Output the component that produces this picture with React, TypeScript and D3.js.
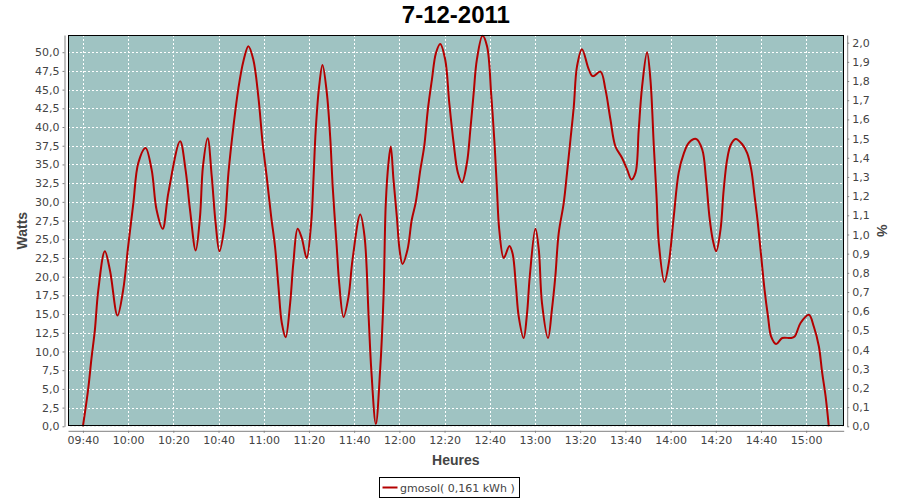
import { useRef, useEffect } from "react"
import * as d3 from "d3"

// gmosol power readings, 7-12-2011
const times = [
  "09:40:00", "09:42:18", "09:43:48", "09:45:18", "09:46:48", "09:49:42", "09:52:00", "09:55:18", "09:57:48", "10:00:00",
  "10:02:18", "10:04:30", "10:07:42", "10:10:24", "10:12:36", "10:15:18", "10:17:48", "10:23:00", "10:25:24", "10:27:24",
  "10:29:54", "10:31:48", "10:33:06", "10:35:12", "10:37:00", "10:38:42", "10:40:24", "10:42:36", "10:44:24", "10:46:36",
  "10:48:48", "10:51:00", "10:53:12", "10:55:24", "10:57:36", "10:59:30", "11:01:18", "11:03:18", "11:05:00", "11:06:30",
  "11:08:00", "11:09:42", "11:11:42", "11:13:06", "11:15:00", "11:16:48", "11:19:00", "11:21:00", "11:22:00", "11:23:00",
  "11:24:30", "11:26:00", "11:27:54", "11:29:24", "11:30:30", "11:32:18", "11:33:24", "11:35:18", "11:37:30", "11:39:18",
  "11:42:42", "11:44:36", "11:46:24", "11:47:36", "11:49:36", "11:51:30", "11:53:00", "11:54:00", "11:55:12", "11:56:12",
  "11:57:24", "11:58:54", "12:00:06", "12:01:24", "12:03:36", "12:05:30", "12:07:18", "12:09:18", "12:11:00", "12:12:36",
  "12:14:24", "12:16:12", "12:18:06", "12:20:18", "12:22:06", "12:24:00", "12:25:54", "12:27:42", "12:29:54", "12:31:24",
  "12:32:54", "12:34:18", "12:36:48", "12:38:48", "12:40:42", "12:42:12", "12:43:12", "12:44:12", "12:46:12", "12:48:42",
  "12:50:06", "12:51:36", "12:52:48", "12:55:00", "12:56:30", "12:57:42", "13:00:12", "13:01:42", "13:03:06", "13:05:48",
  "13:07:30", "13:09:00", "13:10:30", "13:12:42", "13:14:12", "13:15:42", "13:17:12", "13:18:36", "13:20:48", "13:23:48",
  "13:25:36", "13:29:00", "13:31:12", "13:33:24", "13:35:36", "13:38:30", "13:40:48", "13:42:42", "13:44:30", "13:45:54",
  "13:47:24", "13:49:36", "13:51:06", "13:52:36", "13:53:48", "13:54:48", "13:57:18", "13:59:12", "14:01:24", "14:03:36",
  "14:05:54", "14:08:06", "14:11:18", "14:14:00", "14:15:42", "14:17:12", "14:18:42", "14:20:12", "14:22:06", "14:23:30",
  "14:25:00", "14:26:36", "14:28:48", "14:31:42", "14:33:54", "14:35:42", "14:37:12", "14:38:36", "14:40:06", "14:41:36",
  "14:43:06", "14:44:30", "14:46:42", "14:49:24", "14:53:06", "14:54:54", "14:57:30", "15:01:12", "15:03:24", "15:05:36",
  "15:07:06", "15:08:36", "15:10:00",
]
const watts = [
  0, 4.9, 9.1, 12.9, 18.2, 23.4, 20.8, 14.8, 18.2, 24.0,
  29.8, 35.2, 37.2, 34.3, 28.9, 26.4, 31.2, 38.1, 34.3, 28.9,
  23.5, 28.0, 34.7, 38.5, 33.4, 27.2, 23.4, 26.7, 33.9, 40.1,
  45.2, 48.8, 50.8, 49.0, 44.1, 37.9, 33.4, 28.0, 24.0, 18.7,
  13.8, 11.9, 16.5, 21.8, 26.4, 25.2, 22.5, 27.2, 33.0, 39.6,
  45.4, 48.3, 44.6, 38.7, 32.1, 24.0, 19.1, 14.6, 17.3, 22.3,
  28.3, 25.4, 14.7, 7.5, 0.3, 7.5, 17.3, 29.8, 35.2, 37.4,
  33.0, 28.0, 23.6, 21.7, 23.6, 27.6, 30.0, 34.3, 37.4, 42.3,
  46.3, 49.9, 51.1, 49.0, 43.2, 37.9, 33.9, 32.6, 35.2, 39.6,
  44.6, 49.0, 52.2, 50.8, 44.1, 37.4, 31.6, 26.3, 22.5, 24.1,
  23.1, 18.7, 14.7, 11.8, 15.1, 20.0, 26.4, 23.6, 16.5, 11.8,
  15.6, 20.0, 25.8, 29.8, 33.9, 38.3, 42.8, 48.1, 50.4, 47.7,
  46.8, 47.4, 45.0, 41.0, 37.4, 35.9, 34.3, 33.0, 33.9, 39.6,
  45.4, 50.0, 46.3, 37.4, 30.7, 24.5, 19.3, 21.8, 28.0, 33.9,
  36.5, 37.9, 38.4, 37.0, 33.0, 28.0, 24.9, 23.4, 26.3, 31.6,
  35.6, 37.6, 38.4, 37.7, 36.5, 34.3, 30.7, 27.2, 22.7, 18.2,
  14.7, 12.0, 11.0, 11.8, 11.8, 12.0, 13.8, 14.9, 13.3, 10.7,
  7.1, 4.0, 0,
]

const timeTicks = ["09:40", "10:00", "10:20", "10:40", "11:00", "11:20", "11:40", "12:00", "12:20",
  "12:40", "13:00", "13:20", "13:40", "14:00", "14:20", "14:40", "15:00"]
const wattTicks = [0, 2.5, 5, 7.5, 10, 12.5, 15, 17.5, 20, 22.5, 25, 27.5, 30, 32.5, 35, 37.5, 40,
  42.5, 45, 47.5, 50]
const pctTicks = [0, 0.1, 0.2, 0.3, 0.4, 0.5, 0.6, 0.7, 0.8, 0.9, 1.0, 1.1, 1.2, 1.3, 1.4, 1.5, 1.6,
  1.7, 1.8, 1.9, 2.0]

const title = "7-12-2011"
const seriesName = "gmosol( 0,161 kWh )"

const W = 900
const H = 500
const plot = { left: 68, right: 843.7, top: 35, bottom: 426.3 }
const tickFont = "'DejaVu Sans', sans-serif"
const labelFont = "'Liberation Sans', Arial, sans-serif"
const tickColor = "#444444"
const lineColor = "#b40000"

const comma = (f: string) => (v: number) => d3.format(f)(v).replace(".", ",")

export default function App() {
  const svgRef = useRef<SVGSVGElement>(null)

  useEffect(() => {
    if (!svgRef.current) return
    const svg = d3.select(svgRef.current)
    svg.selectAll("*").remove()

    const parseTick = d3.timeParse("%H:%M")
    const parse = d3.timeParse("%H:%M:%S")
    const data = times.map((t, i) => ({ t: parse(t) as Date, v: watts[i] }))

    // 2% margin each side, like the auto range
    const [t0, t1] = d3.extent(data, (d) => d.t) as [Date, Date]
    const pad = (+t1 - +t0) * 0.02
    const x = d3
      .scaleTime()
      .domain([new Date(+t0 - pad), new Date(+t1 + pad)])
      .range([plot.left, plot.right])
    const y = d3.scaleLinear().domain([0, 52.3]).range([plot.bottom, plot.top])
    const yRight = d3.scaleLinear().domain([0, 2.04]).range([plot.bottom, plot.top])

    // plot background
    svg
      .append("rect")
      .attr("x", plot.left)
      .attr("y", plot.top)
      .attr("width", plot.right - plot.left)
      .attr("height", plot.bottom - plot.top)
      .attr("fill", "#9fc3c2")

    // grid
    const grid = svg.append("g").attr("stroke", "#ffffff").attr("stroke-dasharray", "2,2").attr("shape-rendering", "crispEdges")
    grid
      .selectAll("line.v")
      .data(timeTicks)
      .join("line")
      .attr("x1", (d) => Math.round(x(parseTick(d) as Date)) + 0.5)
      .attr("x2", (d) => Math.round(x(parseTick(d) as Date)) + 0.5)
      .attr("y1", plot.top)
      .attr("y2", plot.bottom)
    grid
      .selectAll("line.h")
      .data(wattTicks)
      .join("line")
      .attr("x1", plot.left)
      .attr("x2", plot.right)
      .attr("y1", (d) => Math.round(y(d)) + 0.5)
      .attr("y2", (d) => Math.round(y(d)) + 0.5)

    // series
    const line = d3
      .line<{ t: Date; v: number }>()
      .x((d) => x(d.t))
      .y((d) => y(d.v))
      .curve(d3.curveCatmullRom.alpha(0.5))
    svg
      .append("path")
      .datum(data)
      .attr("fill", "none")
      .attr("stroke", lineColor)
      .attr("stroke-width", 2)
      .attr("stroke-linejoin", "round")
      .attr("d", line)

    // plot outline
    svg
      .append("rect")
      .attr("x", plot.left + 0.5)
      .attr("y", plot.top + 0.5)
      .attr("width", plot.right - plot.left - 1)
      .attr("height", plot.bottom - plot.top - 1)
      .attr("fill", "none")
      .attr("stroke", "#000000")
      .attr("shape-rendering", "crispEdges")

    // axes, offset 4px from the plot
    const styleAxis = (g: d3.Selection<SVGGElement, unknown, null, undefined>) => {
      g.select(".domain").attr("stroke", "#808080")
      g.selectAll(".tick line").attr("stroke", "#808080")
      g.selectAll(".tick text").attr("fill", tickColor).attr("font-family", tickFont).attr("font-size", 11)
    }

    const xAxis = svg
      .append("g")
      .attr("transform", `translate(0,${plot.bottom + 4.5})`)
      .call(
        d3
          .axisBottom(x)
          .tickValues(timeTicks.map((d) => parseTick(d) as Date))
          .tickFormat((d) => d3.timeFormat("%H:%M")(d as Date))
          .tickSizeInner(2)
          .tickSizeOuter(0)
          .tickPadding(3)
      )
    styleAxis(xAxis)

    const yAxis = svg
      .append("g")
      .attr("transform", `translate(${plot.left - 3.5},0)`)
      .call(d3.axisLeft(y).tickValues(wattTicks).tickFormat((d) => comma(".1f")(+d)).tickSizeInner(2).tickSizeOuter(0).tickPadding(3))
    styleAxis(yAxis)

    const yAxisR = svg
      .append("g")
      .attr("transform", `translate(${plot.right + 3.5},0)`)
      .call(d3.axisRight(yRight).tickValues(pctTicks).tickFormat((d) => comma(".1f")(+d)).tickSizeInner(2).tickSizeOuter(0).tickPadding(3))
    styleAxis(yAxisR)

    // title and axis labels
    svg
      .append("text")
      .attr("x", (plot.left + plot.right) / 2)
      .attr("y", 23)
      .attr("text-anchor", "middle")
      .attr("font-family", labelFont)
      .attr("font-weight", "bold")
      .attr("font-size", 24)
      .attr("fill", "#000000")
      .text(title)

    svg
      .append("text")
      .attr("x", (plot.left + plot.right) / 2)
      .attr("y", 465)
      .attr("text-anchor", "middle")
      .attr("font-family", labelFont)
      .attr("font-weight", "bold")
      .attr("font-size", 14)
      .attr("fill", "#444444")
      .text("Heures")

    svg
      .append("text")
      .attr("transform", `translate(27,${(plot.top + plot.bottom) / 2}) rotate(-90)`)
      .attr("text-anchor", "middle")
      .attr("font-family", labelFont)
      .attr("font-weight", "bold")
      .attr("font-size", 14)
      .attr("fill", "#444444")
      .text("Watts")

    svg
      .append("text")
      .attr("transform", `translate(877,${(plot.top + plot.bottom) / 2}) rotate(90)`)
      .attr("text-anchor", "middle")
      .attr("font-family", labelFont)
      .attr("font-weight", "bold")
      .attr("font-size", 14)
      .attr("fill", "#444444")
      .text("%")

    // legend
    const legend = svg.append("g").attr("transform", "translate(379.5,477.5)")
    legend.append("rect").attr("width", 140).attr("height", 20).attr("fill", "#ffffff").attr("stroke", "#000000")
    legend.append("line").attr("x1", 3).attr("x2", 18).attr("y1", 10).attr("y2", 10).attr("stroke", lineColor).attr("stroke-width", 2)
    legend
      .append("text")
      .attr("x", 20.5)
      .attr("y", 14.5)
      .attr("font-family", tickFont)
      .attr("font-size", 11)
      .attr("fill", tickColor)
      .text(seriesName)
  }, [])

  return (
    <svg
      ref={svgRef}
      width={W}
      height={H}
      viewBox={`0 0 ${W} ${H}`}
      style={{ position: "absolute", left: 0, top: 0, background: "#ffffff" }}
    />
  )
}
